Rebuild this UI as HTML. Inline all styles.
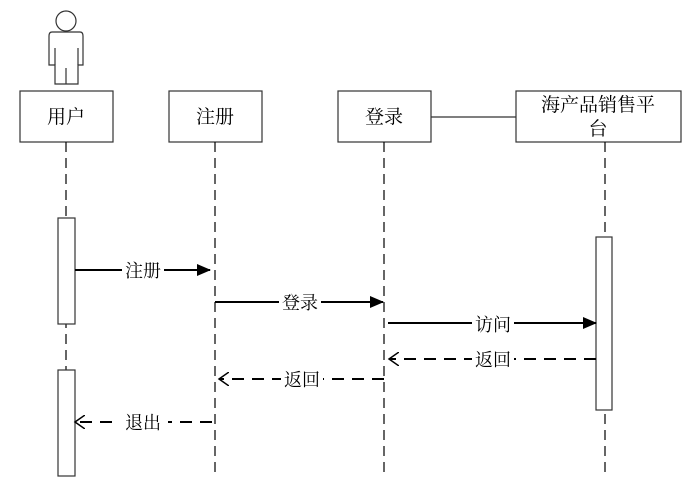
<!DOCTYPE html>
<html><head><meta charset="utf-8"><style>
html,body{margin:0;padding:0;background:#fff;}
svg text{font-family:"Liberation Serif","Noto Serif CJK SC",serif;font-size:18px;fill:#000;}
</style></head><body>
<svg width="698" height="493" viewBox="0 0 698 493" xmlns="http://www.w3.org/2000/svg">
<defs>
<marker id="fa" markerWidth="14" markerHeight="12" refX="13" refY="6" orient="auto" markerUnits="userSpaceOnUse"><path d="M0,0 L14,6 L0,12 Z" fill="#000"/></marker>
<marker id="oa" markerWidth="12" markerHeight="14" refX="10" refY="7" orient="auto" markerUnits="userSpaceOnUse"><path d="M0,0 L10,7 L0,14" fill="none" stroke="#000" stroke-width="1.5"/></marker>
</defs>
<g fill="none" stroke="#333" stroke-width="1.2">
<circle cx="66" cy="21" r="10"/>
<path d="M52,32 H80 Q83,32 83,36 V65 H78 V84 H55 V65 H49 V36 Q49,32 52,32 Z"/>
<path d="M55,48 V65 M78,48 V65 M66,68 V84"/>
</g>
<g fill="#fff" stroke="#333" stroke-width="1.2">
<rect x="20" y="91" width="93" height="51"/>
<rect x="169" y="91" width="93" height="51"/>
<rect x="338" y="91" width="93" height="51"/>
<rect x="516" y="91" width="165" height="51"/>
</g>
<line x1="431" y1="117" x2="516" y2="117" stroke="#333" stroke-width="1.2"/>
<g stroke="#000" stroke-width="1.2" stroke-dasharray="10,6">
<line x1="66" y1="142" x2="66" y2="476"/>
<line x1="215" y1="142" x2="215" y2="476"/>
<line x1="384" y1="142" x2="384" y2="476"/>
<line x1="605" y1="142" x2="605" y2="476"/>
</g>
<g fill="#fff" stroke="#333" stroke-width="1.2">
<rect x="58" y="218" width="17" height="106"/>
<rect x="58" y="370" width="17" height="106"/>
<rect x="596" y="237" width="16" height="173"/>
</g>
<g stroke="#000" stroke-width="2" fill="none">
<line x1="75" y1="270" x2="210" y2="270" marker-end="url(#fa)"/>
<line x1="215" y1="302" x2="383" y2="302" marker-end="url(#fa)"/>
<line x1="388" y1="323" x2="596" y2="323" marker-end="url(#fa)"/>
<line x1="596" y1="359" x2="389" y2="359" stroke-dasharray="12,8" marker-end="url(#oa)"/>
<line x1="384" y1="379" x2="219" y2="379" stroke-dasharray="12,8" marker-end="url(#oa)"/>
<line x1="212" y1="422" x2="75" y2="422" stroke-dasharray="12,8" marker-end="url(#oa)"/>
</g>
<g>
<rect x="122" y="259" width="42" height="22" fill="#fff"/>
<rect x="279" y="291" width="42" height="22" fill="#fff"/>
<rect x="472" y="312" width="42" height="22" fill="#fff"/>
<rect x="472" y="348" width="42" height="22" fill="#fff"/>
<rect x="281" y="368" width="42" height="22" fill="#fff"/>
<rect x="120" y="411" width="48" height="22" fill="#fff"/>
</g>
<text x="143" y="277" text-anchor="middle">注册</text>
<text x="300" y="309" text-anchor="middle">登录</text>
<text x="493" y="331" text-anchor="middle">访问</text>
<text x="493" y="366" text-anchor="middle">返回</text>
<text x="302" y="386" text-anchor="middle">返回</text>
<text x="143" y="429" text-anchor="middle">退出</text>
<text x="66" y="123" text-anchor="middle" style="font-size:19px">用户</text>
<text x="215" y="123" text-anchor="middle" style="font-size:19px">注册</text>
<text x="384" y="123" text-anchor="middle" style="font-size:19px">登录</text>
<text x="598" y="111" text-anchor="middle" style="font-size:19px">海产品销售平</text>
<text x="598" y="135" text-anchor="middle" style="font-size:19px">台</text>
</svg>
</body></html>
